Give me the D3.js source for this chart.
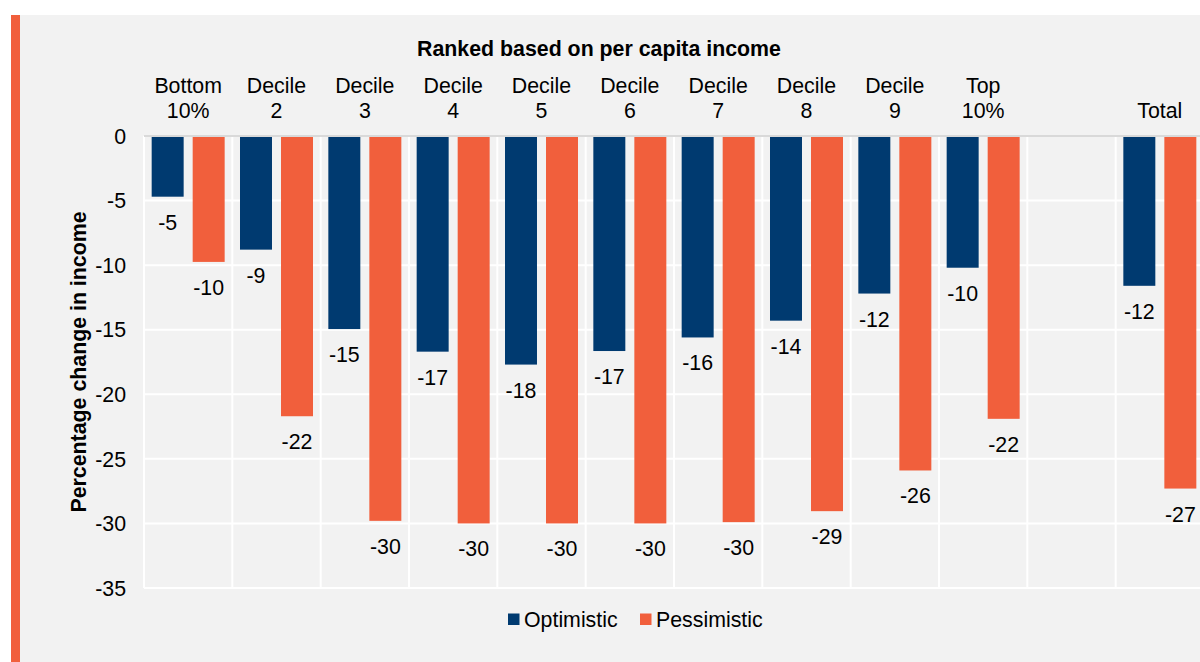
<!DOCTYPE html>
<html>
<head>
<meta charset="utf-8">
<script src="https://cdn.jsdelivr.net/npm/d3@7"></script>
<style>
html,body{margin:0;padding:0;background:#fff;}
svg{display:block;font-family:"Liberation Sans",Arial,sans-serif;}
</style>
</head>
<body>
<svg id="chart" width="1200" height="662"></svg>
<script>
const categories = ["Bottom 10%","Decile 2","Decile 3","Decile 4","Decile 5","Decile 6","Decile 7","Decile 8","Decile 9","Top 10%","","Total"];
const categoryLines = [["Bottom","10%"],["Decile","2"],["Decile","3"],["Decile","4"],["Decile","5"],["Decile","6"],["Decile","7"],["Decile","8"],["Decile","9"],["Top","10%"],[],["Total"]];
const optimistic = [-4.7,-8.8,-14.95,-16.7,-17.7,-16.65,-15.6,-14.3,-12.2,-10.2,null,-11.6];
const pessimistic = [-9.75,-21.7,-29.8,-30.0,-30.0,-30.0,-29.9,-29.05,-25.9,-21.9,null,-27.3];
const seriesNames = ["Optimistic","Pessimistic"];
const colors = ["#003A70","#F15F3C"];
const yTicks = [0,-5,-10,-15,-20,-25,-30,-35];

(function(){
const FS = 21.33;
const svg = d3.select("#chart");
svg.append("rect").attr("x",20).attr("y",15).attr("width",1180).attr("height",647).attr("fill","#F2F2F2");
svg.append("rect").attr("x",11).attr("y",15).attr("width",9).attr("height",647).attr("fill","#F15F3C");

const pl = 144, pr = 1204, pt = 136, pb = 588;
const x0 = d3.scaleBand().domain(categories.map((d,i)=>i)).range([pl,pr]).paddingInner(0).paddingOuter(0);
const x1 = d3.scaleBand().domain(seriesNames).range([0,x0.bandwidth()]).paddingInner(0.22).paddingOuter(0.187);
const y = d3.scaleLinear().domain([0,-35]).range([pt,pb]);

const g = svg.append("g");
g.selectAll("line.h").data(yTicks.filter(t=>t!==0)).join("line")
  .attr("x1",pl).attr("x2",1200).attr("y1",d=>y(d)).attr("y2",d=>y(d))
  .attr("stroke","#fff").attr("stroke-width",2);
const vlines = d3.range(categories.length+1).map(i=>pl + i*x0.step());
g.selectAll("line.v").data(vlines.filter(v=>v<1200)).join("line")
  .attr("x1",d=>d).attr("x2",d=>d).attr("y1",pt).attr("y2",pb)
  .attr("stroke","#fff").attr("stroke-width",2);

svg.append("g").selectAll("text").data(yTicks).join("text")
  .attr("x",126).attr("y",d=>y(d)).attr("dy","0.36em").attr("text-anchor","end")
  .attr("font-size",FS).attr("fill","#000").text(d=>d);

const rows = categories.map((c,i)=>({i, vals:[optimistic[i],pessimistic[i]]}));
const bg = svg.append("g");
rows.forEach(r=>{
  r.vals.forEach((v,k)=>{
    if(v===null) return;
    const bx = x0(r.i)+x1(seriesNames[k]);
    bg.append("rect").attr("x",bx).attr("y",y(0)).attr("width",x1.bandwidth())
      .attr("height",y(v)-y(0)).attr("fill",colors[k]);
    bg.append("text").attr("x",bx+x1.bandwidth()/2).attr("y",y(v)+33)
      .attr("text-anchor","middle").attr("font-size",FS).attr("fill","#000")
      .text(Math.round(v));
  });
});

svg.append("line").attr("x1",pl).attr("x2",1200).attr("y1",y(0)).attr("y2",y(0))
  .attr("stroke","#D9D9D9").attr("stroke-width",2);

const cl = svg.append("g");
categoryLines.forEach((lines,i)=>{
  const cx = x0(i)+x0.bandwidth()/2;
  lines.forEach((t,j)=>{
    const yy = lines.length===2 ? (j===0?92.7:118.3) : 118.3;
    cl.append("text").attr("x",cx).attr("y",yy).attr("text-anchor","middle")
      .attr("font-size",FS).attr("fill","#000").text(t);
  });
});

svg.append("text").attr("x",599).attr("y",56).attr("text-anchor","middle")
  .attr("font-size",FS).attr("font-weight","bold").attr("fill","#000")
  .text("Ranked based on per capita income");

svg.append("text").attr("transform","translate(86,362) rotate(-90)").attr("text-anchor","middle")
  .attr("font-size",FS).attr("font-weight","bold").attr("fill","#000")
  .text("Percentage change in income");

const legX = [508,640];
seriesNames.forEach((s,k)=>{
  svg.append("rect").attr("x",legX[k]).attr("y",613.5).attr("width",11.5).attr("height",11.5).attr("fill",colors[k]);
  svg.append("text").attr("x",legX[k]+16).attr("y",619.5).attr("dy","0.36em")
    .attr("font-size",FS).attr("fill","#000").text(s);
});
})();
</script>
</body>
</html>
